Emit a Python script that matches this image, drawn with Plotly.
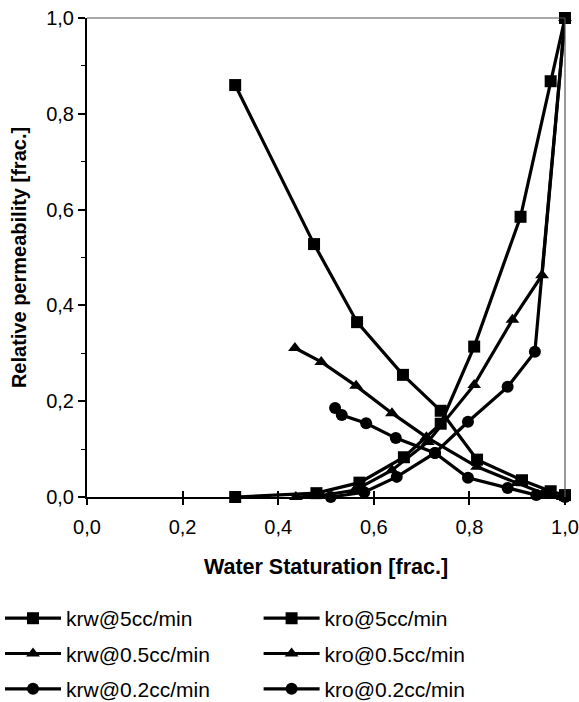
import plotly.graph_objects as go

# ---- data ----
sw_krw5 = [0.31, 0.48, 0.57, 0.663, 0.74, 0.81, 0.907, 0.97, 1.0]
krw5 = [0.0, 0.008, 0.03, 0.083, 0.153, 0.314, 0.585, 0.868, 1.0]
sw_kro5 = [0.31, 0.475, 0.565, 0.661, 0.74, 0.816, 0.91, 0.97, 1.0]
kro5 = [0.86, 0.528, 0.365, 0.255, 0.18, 0.078, 0.035, 0.012, 0.004]

sw_krw05 = [0.437, 0.49, 0.56, 0.638, 0.713, 0.81, 0.89, 0.952, 1.0]
krw05 = [0.0, 0.003, 0.014, 0.056, 0.115, 0.234, 0.37, 0.463, 1.0]
sw_kro05 = [0.435, 0.49, 0.563, 0.638, 0.71, 0.816, 0.9, 0.954, 0.995]
kro05 = [0.311, 0.282, 0.232, 0.175, 0.125, 0.063, 0.029, 0.008, 0.0]

sw_krw02 = [0.51, 0.58, 0.648, 0.728, 0.797, 0.88, 0.937, 1.0]
krw02 = [0.0, 0.01, 0.042, 0.092, 0.157, 0.23, 0.303, 1.0]
sw_kro02 = [0.519, 0.533, 0.584, 0.646, 0.728, 0.797, 0.88, 0.94, 1.0]
kro02 = [0.186, 0.171, 0.154, 0.123, 0.092, 0.04, 0.019, 0.004, 0.0]

names = ["krw@5cc/min", "kro@5cc/min", "krw@0.5cc/min", "kro@0.5cc/min",
         "krw@0.2cc/min", "kro@0.2cc/min"]
xs = [sw_krw5, sw_kro5, sw_krw05, sw_kro05, sw_krw02, sw_kro02]
ys = [krw5, kro5, krw05, kro05, krw02, kro02]
symbols = ["square", "square", "triangle-up", "triangle-up", "circle", "circle"]
sizes = [12, 12, 12, 12, 12, 12]

x_ticks = [0.0, 0.2, 0.4, 0.6, 0.8, 1.0]
y_ticks = [0.0, 0.2, 0.4, 0.6, 0.8, 1.0]

FONT = "Liberation Sans, Arial, sans-serif"

fig = go.Figure()
for i in range(6):
    fig.add_trace(go.Scatter(
        x=xs[i], y=ys[i], name=names[i], mode="lines+markers",
        line=dict(color="black", width=3.2),
        marker=dict(symbol=symbols[i], size=sizes[i], color="black",
                    line=dict(width=0)),
        legend="legend" if i % 2 == 0 else "legend2",
        legendgroup=names[i],
        cliponaxis=False,
    ))

# invisible helper trace to carry the inside x-ticks axis
fig.add_trace(go.Scatter(x=[0, 1], y=[0, 0], xaxis="x2", mode="none",
                         showlegend=False, hoverinfo="skip"))

legend_common = dict(
    font=dict(family=FONT, size=21, color="black"),
    bgcolor="rgba(0,0,0,0)", tracegroupgap=5, itemwidth=56,
    yanchor="top", xanchor="left", orientation="v",
)

fig.update_layout(
    width=579, height=702,
    margin=dict(l=87, r=14, t=18, b=205, autoexpand=False),
    paper_bgcolor="white", plot_bgcolor="white",
    separators=",.",
    font=dict(family=FONT, color="black"),
    xaxis=dict(
        range=[0, 1], tickvals=x_ticks, tickformat=".1f",
        ticks="outside", ticklen=6, tickwidth=1.5, tickcolor="black",
        ticklabelstandoff=5, ticklabeloverflow="allow",
        showline=True, linecolor="black", linewidth=2,
        showgrid=False, zeroline=False, automargin=False,
        tickfont=dict(family=FONT, size=20, color="black"),
        title=dict(text="<b>Water Staturation [frac.]</b>",
                   font=dict(family=FONT, size=21.5, color="black"), standoff=22),
    ),
    xaxis2=dict(
        range=[0, 1], overlaying="x", side="bottom", matches="x",
        tickvals=x_ticks, ticks="inside", ticklen=6, tickwidth=1.5,
        tickcolor="black", showticklabels=False, showline=False,
        showgrid=False, zeroline=False,
    ),
    yaxis=dict(
        range=[0, 1], tickvals=y_ticks, tickformat=".1f",
        ticks="outside", ticklen=7, tickwidth=1.5, tickcolor="black",
        ticklabeloverflow="allow",
        minor=dict(dtick=0.1, ticks="outside", ticklen=4, tickcolor="black",
                   tickwidth=1, showgrid=False),
        showline=True, linecolor="black", linewidth=2,
        showgrid=False, zeroline=False, automargin=False,
        tickfont=dict(family=FONT, size=20, color="black"),
        title=dict(text="<b>Relative permeability [frac.]</b>",
                   font=dict(family=FONT, size=20, color="black"), standoff=14),
    ),
    legend=dict(x=-0.182, y=-0.211, **legend_common),
    legend2=dict(x=0.359, y=-0.211, **legend_common),
    shapes=[
        dict(type="line", xref="paper", yref="paper", x0=0, x1=1, y0=1, y1=1,
             line=dict(color="#555", width=1.2)),
        dict(type="line", xref="paper", yref="paper", x0=1, x1=1, y0=0, y1=1,
             line=dict(color="#555", width=1.2)),
    ],
)

# remove the browser's default 8px page margin so the figure fills the window
fig.write_html("out.html",
               config={"displayModeBar": False},
               post_script="document.body.style.margin='0';"
                           "document.body.style.overflow='hidden';")
